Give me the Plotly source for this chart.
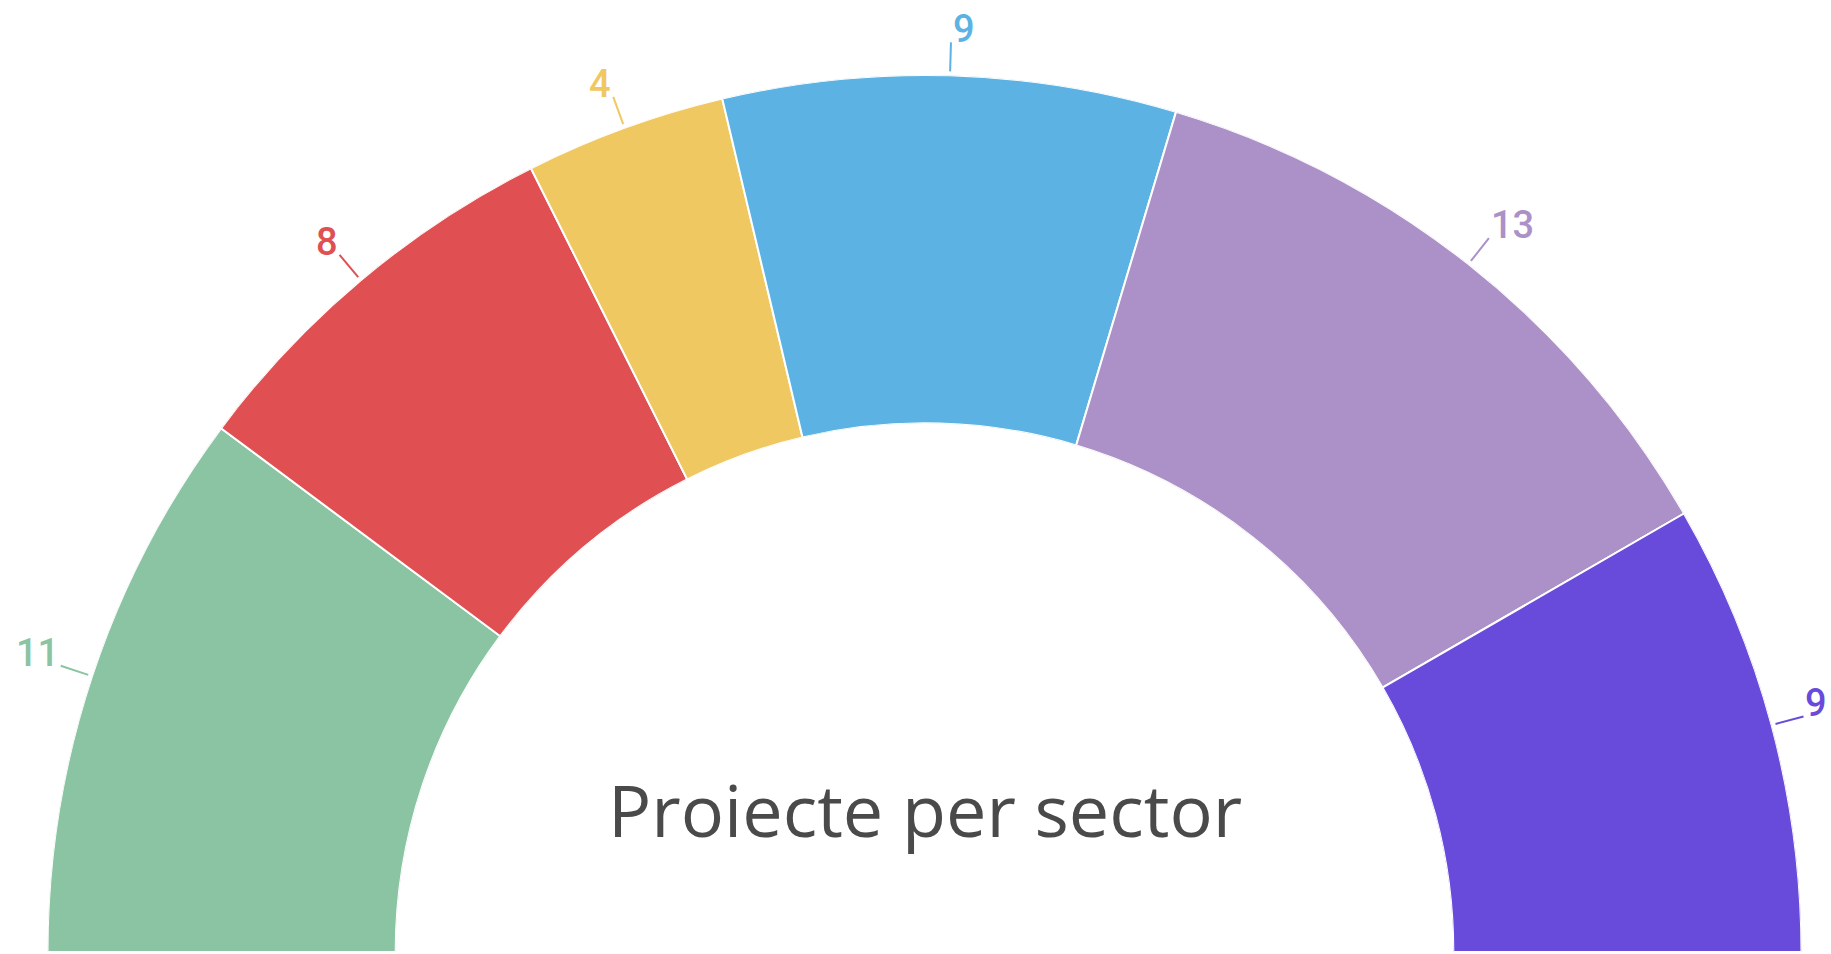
import math
import plotly.graph_objects as go

# Data
sectors = ["Sector 1", "Sector 2", "Sector 3", "Sector 4", "Sector 5", "Sector 6"]
values = [11, 8, 4, 9, 13, 9]
colors = ["#8BC4A3", "#E05052", "#F0C862", "#5CB3E3", "#AB91C7", "#694BDC"]
center_title = "Proiecte per sector"

HOLE = 0.603
total = sum(values)
deg_per_unit = 180.0 / total

starts = []
acc = 0
for v in values:
    starts.append(acc)
    acc += v
mids = [(s + v / 2) * deg_per_unit for s, v in zip(starts, values)]
widths = [v * deg_per_unit for v in values]

W, H = 1831, 954
ML, MR, MT, MB = 47, 29, 75, 2
PW, PH = W - ML - MR, H - MT - MB  # 2:1 area, polar centre at bottom middle
R = PH

fig = go.Figure()
fig.add_trace(go.Barpolar(
    r=[1] * len(values),
    theta=mids,
    width=widths,
    base=0,
    marker=dict(color=colors, line=dict(color="white", width=2)),
    hoverinfo="text",
    text=[f"{s}: {v}" for s, v in zip(sectors, values)],
    showlegend=False,
))


def to_paper(rpx, phi):
    return 0.5 + rpx * math.cos(phi) / PW, rpx * math.sin(phi) / PH


shapes = []
annotations = []
for m, c, v in zip(mids, colors, values):
    phi = math.radians(180 - m)  # display angle, counter-clockwise from +x
    x0, y0 = to_paper(R + 4, phi)
    x1, y1 = to_paper(R + 33, phi)
    shapes.append(dict(type="line", xref="paper", yref="paper",
                       x0=x0, y0=y0, x1=x1, y1=y1,
                       line=dict(color=c, width=2)))
    annotations.append(dict(
        x=x1, y=y1, xref="paper", yref="paper",
        text=str(v), showarrow=False,
        xanchor="right" if math.cos(phi) < 0 else "left",
        yanchor="bottom", yshift=-11,
        font=dict(family="Roboto", size=38, color=c, weight=500),
    ))

annotations.append(dict(
    text=center_title,
    x=0.5, y=0.163, xref="paper", yref="paper",
    xanchor="center", yanchor="middle",
    showarrow=False,
    font=dict(family="Open Sans", size=72, color="#4a4a4a"),
))

fig.update_layout(
    width=W,
    height=H,
    margin=dict(l=ML, r=MR, t=MT, b=MB),
    paper_bgcolor="white",
    plot_bgcolor="white",
    polar=dict(
        domain=dict(x=[0, 1], y=[0, 1]),
        sector=[0, 180],
        hole=HOLE,
        bgcolor="white",
        radialaxis=dict(visible=False, range=[0, 1]),
        angularaxis=dict(visible=False, rotation=180, direction="clockwise",
                         thetaunit="degrees", showgrid=False),
    ),
    shapes=shapes,
    annotations=annotations,
)

fig.write_html("out.html", config={"displayModeBar": False},
               post_script="document.body.style.margin='0';")
